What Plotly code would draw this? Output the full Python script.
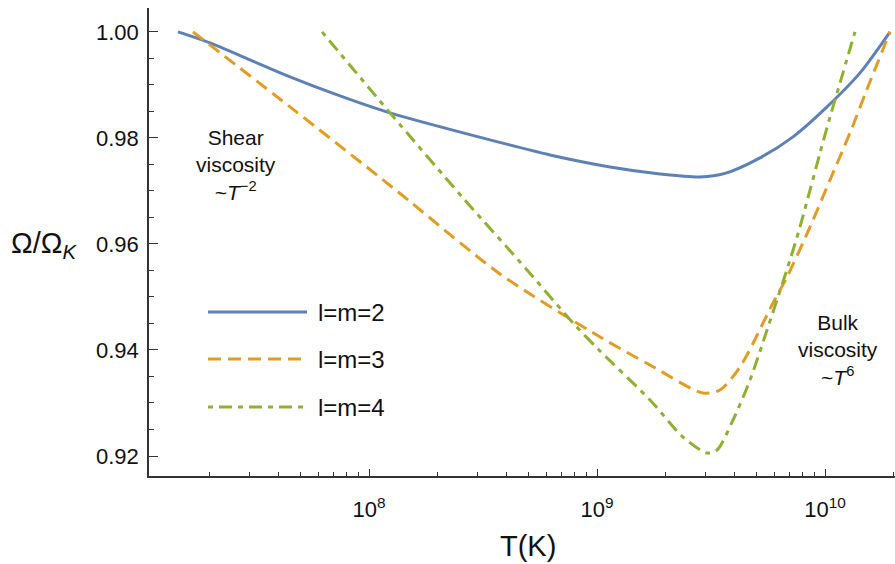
import plotly.graph_objects as go

# Temperature (K) and normalised spin frequency for each mode
T_l2 = [1.453e7, 2.007e7, 3.006e7, 4.503e7, 7.46e7, 1.236e8, 3.395e8, 6.22e8,
        1.140e9, 1.889e9, 2.830e9, 3.642e9, 5.187e9, 7.237e9, 1.02e10, 1.424e10, 1.928e10]
W_l2 = [1.000, 0.99792, 0.99472, 0.99151, 0.98792, 0.98472, 0.97962, 0.97679,
        0.97453, 0.97321, 0.97264, 0.97330, 0.97623, 0.98019, 0.98585, 0.99226, 1.000]

T_l3 = [1.690e7, 4.503e7, 1.152e8, 1.483e8, 3.754e8, 1.031e9, 1.708e9, 2.917e9,
        3.463e9, 4.239e9, 5.913e9, 6.813e9, 8.597e9, 1.052e10, 1.287e10, 1.524e10, 1.928e10]
W_l3 = [1.000, 0.98585, 0.97208, 0.9683, 0.95434, 0.94245, 0.93717, 0.93189,
        0.93245, 0.93679, 0.94887, 0.95377, 0.96321, 0.97208, 0.98094, 0.98906, 1.000]

T_l4 = [6.222e7, 1.236e8, 2.584e8, 4.932e8, 7.847e8, 1.031e9, 1.708e9, 2.383e9,
        3.037e9, 3.360e9, 3.950e9, 4.690e9, 5.568e9, 6.22e9, 7.023e9, 7.77e9,
        8.6e9, 9.51e9, 1.052e10, 1.164e10, 1.354e10]
W_l4 = [1.000, 0.98472, 0.96868, 0.9551, 0.9451, 0.93981, 0.93057, 0.92358,
        0.92057, 0.92113, 0.92679, 0.93434, 0.94377, 0.95, 0.95698, 0.96321,
        0.97019, 0.97717, 0.98396, 0.99038, 1.000]

series_names = ["l=m=2", "l=m=3", "l=m=4"]
x_major = [1e8, 1e9, 1e10]
x_major_text = ["10<sup>8</sup>", "10<sup>9</sup>", "10<sup>10</sup>"]
x_minor = [m * 10 ** e for e in (7, 8, 9, 10) for m in range(2, 10)]

BLUE, ORANGE, GREEN = "#5E81B5", "#E19C24", "#8FB032"
DASH3 = "13px,7px"
DASH4 = "5px,6px,13px,6px"
FONT = "Liberation Sans, Arial, Helvetica, sans-serif"
AX = "#333333"
TXT = "#111111"

fig = go.Figure()
for T, W, col, dash, name in [
    (T_l2, W_l2, BLUE, "solid", series_names[0]),
    (T_l3, W_l3, ORANGE, DASH3, series_names[1]),
    (T_l4, W_l4, GREEN, DASH4, series_names[2]),
]:
    fig.add_trace(go.Scatter(
        x=T, y=W, mode="lines", name=name,
        line=dict(color=col, width=3, dash=dash, shape="spline", smoothing=0.8),
        showlegend=False,
    ))

# Hand-built legend: long line samples with labels to their right
legend_rows = [(BLUE, "solid"), (ORANGE, DASH3), (GREEN, DASH4)]
row_y = [0.3504, 0.2500, 0.1474]
for (col, dash), yy, name in zip(legend_rows, row_y, series_names):
    fig.add_shape(type="line", xref="paper", yref="paper",
                  x0=0.0791, x1=0.2118, y0=yy, y1=yy,
                  line=dict(color=col, width=3, dash=dash))
    fig.add_annotation(xref="paper", yref="paper", x=0.2240, y=yy,
                       text=name, showarrow=False, xanchor="left", yanchor="middle",
                       font=dict(family=FONT, size=24, color=TXT))

# Regime labels
fig.add_annotation(xref="paper", yref="paper", x=0.1166, y=0.664,
                   text="Shear<br>viscosity<br>~<i>T</i><sup>−2</sup>",
                   showarrow=False, xanchor="center", yanchor="middle",
                   font=dict(family=FONT, size=21, color=TXT))
fig.add_annotation(xref="paper", yref="paper", x=0.9236, y=0.270,
                   text="Bulk<br>viscosity<br>~<i>T</i><sup>6</sup>",
                   showarrow=False, xanchor="center", yanchor="middle",
                   font=dict(family=FONT, size=21, color=TXT))

# Axis titles
fig.add_annotation(xref="paper", yref="paper", x=0.508, y=-0.150,
                   text="T(K)", showarrow=False, xanchor="center", yanchor="middle",
                   font=dict(family=FONT, size=29, color=TXT))
fig.add_annotation(xref="paper", yref="paper", x=-0.1408, y=0.4936,
                   text="Ω/Ω<sub><i>K</i></sub>", showarrow=False,
                   xanchor="center", yanchor="middle",
                   font=dict(family=FONT, size=29, color=TXT))

fig.update_layout(
    width=895, height=564,
    margin=dict(l=149, r=0, t=8, b=88),
    paper_bgcolor="white", plot_bgcolor="white",
    font=dict(family=FONT, color=TXT),
    xaxis=dict(
        type="log", range=[7.035, 10.307],
        showgrid=False, zeroline=False,
        showline=True, linecolor=AX, linewidth=1.5,
        tickmode="array", tickvals=x_major, ticktext=x_major_text,
        ticks="inside", ticklen=7, tickwidth=1, tickcolor=AX,
        ticklabelstandoff=13,
        tickfont=dict(family=FONT, size=22, color=TXT),
        minor=dict(tickmode="array", tickvals=x_minor, ticks="inside",
                   ticklen=4, tickwidth=1, tickcolor=AX, showgrid=False),
    ),
    yaxis=dict(
        range=[0.91623, 1.0045],
        showgrid=False, zeroline=False,
        showline=True, linecolor=AX, linewidth=1.5,
        tick0=0.92, dtick=0.02, tickformat=".2f",
        ticks="inside", ticklen=9, tickwidth=1, tickcolor=AX,
        ticklabelstandoff=4,
        tickfont=dict(family=FONT, size=22, color=TXT),
        minor=dict(dtick=0.005, tick0=0.92, ticks="inside",
                   ticklen=5, tickwidth=1, tickcolor=AX, showgrid=False),
    ),
)

fig.write_html("out.html")
